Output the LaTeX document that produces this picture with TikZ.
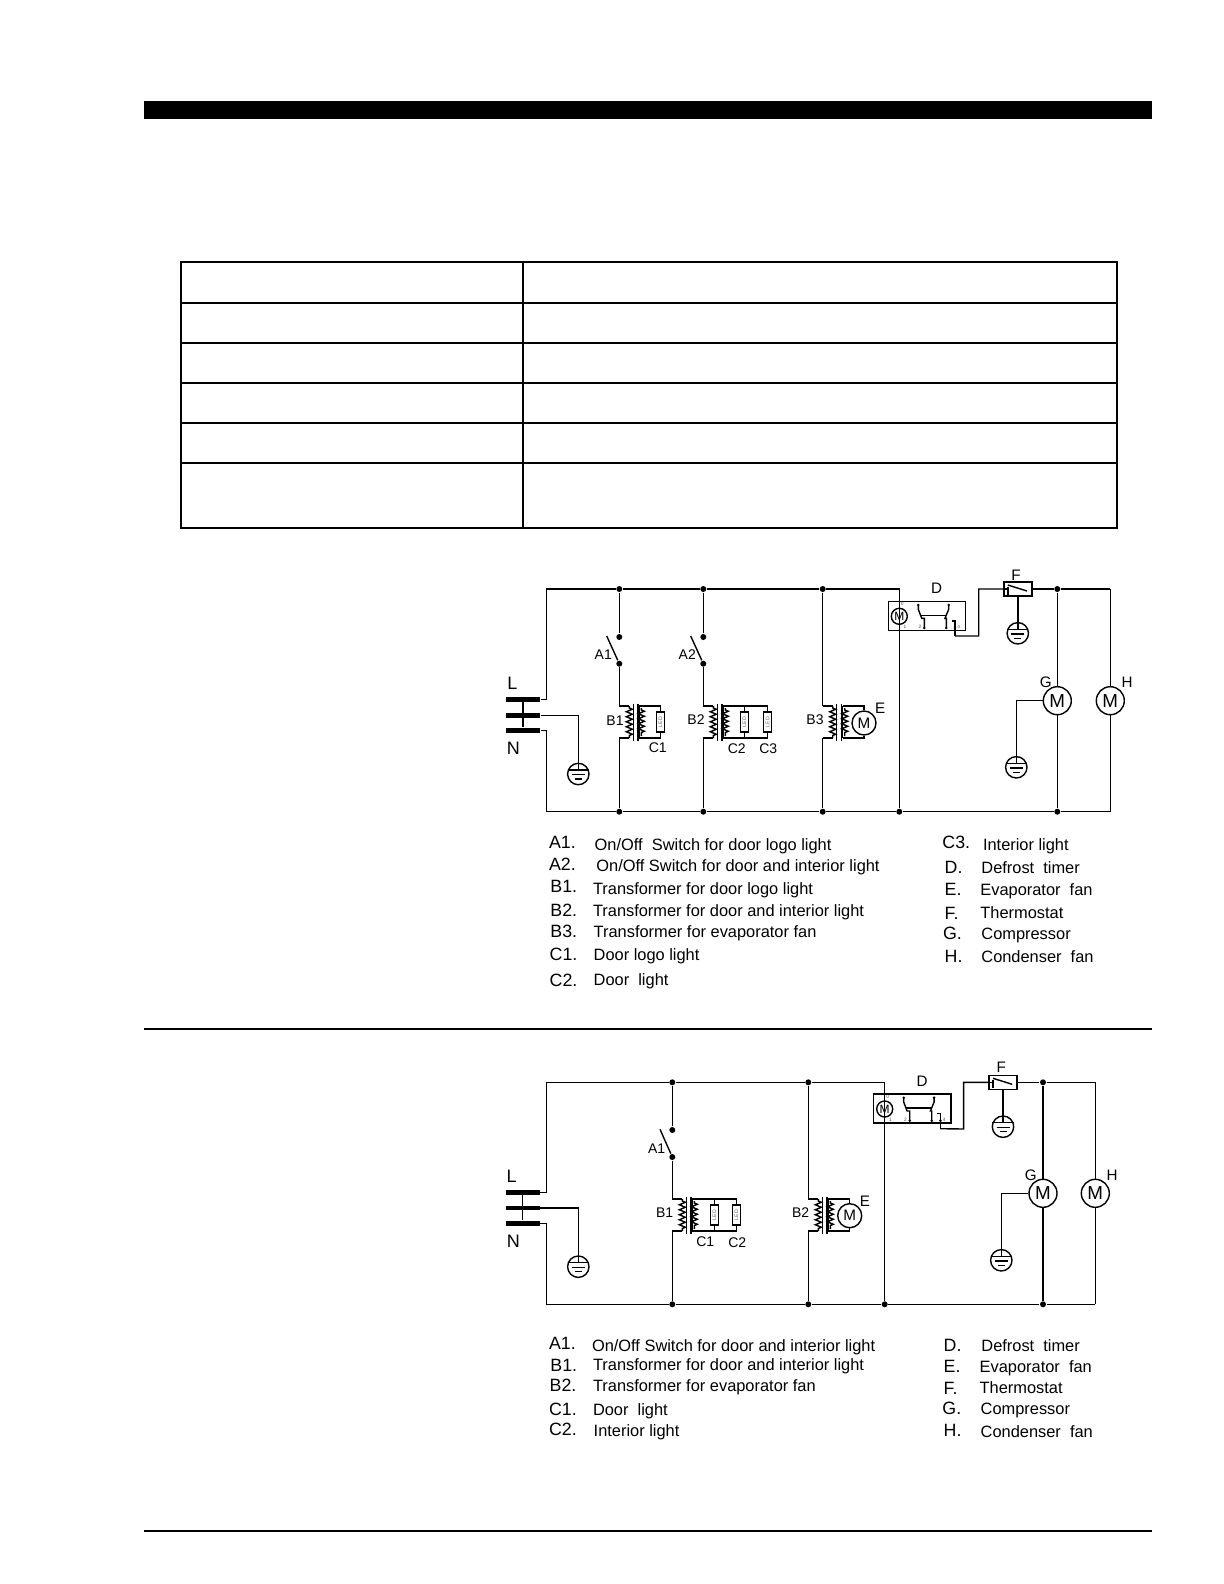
\documentclass[tikz,border=0pt]{standalone}
\usepackage{fontspec}
\setmainfont{Liberation Sans}
\usetikzlibrary{decorations.pathmorphing}
\tikzset{
	dot/.style={circle,fill=black,inner sep=0,minimum size=3pt},
	smalldot/.style={circle,fill=black,inner sep=0,minimum size=1.4pt},
	bar/.style={fill=black,inner sep=0,minimum width=17pt,minimum height=2.4pt},
	motor/.style={circle,draw,fill=white,inner sep=0,minimum size=14pt,font=\fontsize{9.4pt}{10pt}\selectfont},
	fanmotor/.style={motor,minimum size=12pt,font=\fontsize{7.6pt}{8pt}\selectfont},
	led/.style={draw,fill=white,inner sep=0,rotate=90,minimum width=10pt,minimum height=4pt,text=black!60,font=\fontsize{2.6pt}{3pt}\selectfont},
	lab/.style={inner sep=0,font=\fontsize{7pt}{8pt}\selectfont},
	letlab/.style={inner sep=0,font=\fontsize{7.6pt}{8pt}\selectfont},
	biglab/.style={inner sep=0,font=\fontsize{9pt}{10pt}\selectfont},
	pin/.style={inner sep=0,text=black!70,font=\fontsize{2.4pt}{3pt}\selectfont},
	legkey/.style={inner sep=0,anchor=base west,xshift=-.5pt,yshift=-.5pt,font=\fontsize{8.9pt}{10pt}\selectfont},
	legtext/.style={inner sep=0,anchor=base west,xshift=-.5pt,yshift=-.5pt,font=\fontsize{8.2pt}{10pt}\selectfont},
	coil/.style={decorate,decoration={zigzag,amplitude=1.5pt,segment length=2.5pt,pre length=1pt,post length=1pt}},
	trafo/.pic={
		\coordinate (-pin) at (0,-16);
		\coordinate (-pout) at (0,16);
		\coordinate (-sin) at (20,-16);
		\coordinate (-sout) at (20,16);
		\draw (0,-16) -- (10,-16);
		\draw (0,16) -- (10,16);
		\draw[coil] (10,-16) -- (10,16);
		\draw (14,-18.5) -- (14,18.5);
		\draw (18.5,-18.5) -- (18.5,18.5);
		\draw (20,-16) -- (20,16);
		\draw[coil] (22,-14) -- (22,14);
	},
	gnd/.pic={
		\node[circle,draw,inner sep=0,minimum size=10.7pt] (-c) at (0,0) {};
		\coordinate (-in) at (0,-4);
		\draw (-10.6,-4) -- (10.6,-4);
		\draw (-6.5,0.5) -- (6.5,0.5);
		\draw (-3.5,5) -- (3.5,5);
	},
	timer/.pic={
		\coordinate (-out) at (55.7,19.7);
		\draw (-11,-15) rectangle (66.4,14);
		\node[circle,draw,inner sep=0,minimum size=8pt,font=\fontsize{6pt}{7pt}\selectfont] (-m) at (0,0) {M};
		\draw (19,-11.3) -- (19,-7) -- (22.4,2) -- (25,2) -- (25,11.7);
		\draw (49.4,-11.3) -- (49.4,-7) -- (45.7,2) -- (47,2) -- (47,11.7);
		\draw (21,-1) -- (47,-1);
		\draw (52.4,4.7) -- (55.7,4.7) -- (-out);
		\node[smalldot] (-a) at (19,-11.3) {};
		\node[smalldot] (-b) at (49.4,-11.3) {};
		\node[smalldot] (-d) at (25,11.7) {};
		\node[smalldot] (-e) at (47,11.7) {};
		\node[smalldot] (-f) at (55.7,11.7) {};
		\node[pin] (-n0) at (3,-12) {0};
		\node[pin] (-n1) at (5.7,10.7) {1};
		\node[pin] (-n2) at (20.7,10.4) {2};
		\node[pin] (-n4) at (59.4,10.4) {4};
	},
	thermo/.pic={
		\node[draw,inner sep=0,minimum width=14pt,minimum height=7pt] (-box) at (0,0) {};
		\draw (-14,0) -- (-10,0);
		\draw (-10,-2.5) -- (-10,6);
		\draw (-10,-4) -- (9.2,2);
	},
}
\newcommand{\legentry}[7]{
	\node[legkey] (k#1) at (#2,#3) {#4};
	\node[legtext] (t#1) at (#5,#6) {#7};
}

\begin{document}
\begin{tikzpicture}[x=0.5pt,y=-0.5pt,line width=.7pt]
	\useasboundingbox (0,0) rectangle (1224,1584);
	% page rules
	\fill (144,101) rectangle (1152,119);
	\draw (144,1029) -- (1152,1029);
	\draw (144,1531) -- (1152,1531);
	% table
	\draw[line width=1pt] (181,262) rectangle (1117,527.7);
	\draw[line width=1pt] (523.3,262) -- (523.3,527.7);
	\foreach \r in {302.7,342.7,382.7,422.7,462.7}
		\draw[line width=1pt] (181,\r) -- (1117,\r);

	% first circuit: define coordinates
	\coordinate (tl) at (546.7,589);
	\coordinate (bl) at (546.7,811.7);
	\coordinate (tm) at (899.3,589);
	\coordinate (tr) at (1110.3,589);
	\coordinate (br) at (1110.3,811.7);
	\coordinate (d1) at (978.7,636);
	\coordinate (d2) at (978.7,589);
	\coordinate (s1) at (606.7,636);
	\coordinate (s2) at (690.7,636);
	% supply
	\node[bar] (L1) at (523,699.3) {};
	\node[bar] (L2) at (523,715.3) {};
	\node[bar] (L3) at (523,730.3) {};
	\node[biglab] (Ltxt) at (512.3,683.3) {L};
	\node[biglab] (Ntxt) at (513.3,748.3) {N};
	\draw (L1) -- (L3);
	\pic (g1) at (578.3,774) {gnd};
	\draw (L2.east) -| (g1-in);
	% junctions
	\node[dot] (a1) at (619.3,589) {};
	\node[dot] (a2) at (703.3,589) {};
	\node[dot] (a3) at (822.7,589) {};
	\node[dot] (a5) at (1057.3,589) {};
	\node[dot] (b1) at (619.3,811.7) {};
	\node[dot] (b2) at (703.3,811.7) {};
	\node[dot] (b3) at (822.7,811.7) {};
	\node[dot] (b4) at (899.3,811.7) {};
	\node[dot] (b5) at (1057.3,811.7) {};
	% rails
	\draw (L1.east) -| (tl) -- (a1) -- (a2) -- (a3) -- (tm) -- (b4);
	\draw (L3.east) -| (bl) -- (b1) -- (b2) -- (b3) -- (b4) -- (b5) -- (br);
	% switches
	\node[dot] (A1a) at (619.3,637) {};
	\node[dot] (A1b) at (619.3,663.7) {};
	\node[dot] (A2a) at (703.3,637) {};
	\node[dot] (A2b) at (703.3,663.7) {};
	\draw (A1b) -- (s1);
	\draw (A2b) -- (s2);
	\draw (a1) -- (A1a);
	\draw (a2) -- (A2a);
	\node[lab] (A1txt) at (603.3,655) {A1};
	\node[lab] (A2txt) at (687.3,655) {A2};
	% transformers
	\pic (T1) at (619.3,722) {trafo};
	\pic (T2) at (703.3,722) {trafo};
	\pic (T3) at (822.7,722) {trafo};
	\draw (A1b) -- (T1-pin);
	\draw (T1-pout) -- (b1);
	\draw (A2b) -- (T2-pin);
	\draw (T2-pout) -- (b2);
	\draw (a3) -- (T3-pin);
	\draw (T3-pout) -- (b3);
	\node[lab] (B1txt) at (615,721) {B1};
	\node[lab] (B2txt) at (696,719.3) {B2};
	\node[lab] (B3txt) at (815,719.3) {B3};
	% lights
	\node[led] (C1) at (660.3,722) {LED};
	\node[led] (C2) at (744.3,722) {LED};
	\node[led] (C3) at (767.7,722) {LED};
	\draw (T1-sin) -| (C1.east);
	\draw (T1-sout) -| (C1.west);
	\draw (T2-sin) -| (C2.east);
	\draw (T2-sout) -| (C2.west);
	\draw (T2-sin) -| (C3.east);
	\draw (T2-sout) -| (C3.west);
	\node[lab] (C1txt) at (657.7,747.7) {C1};
	\node[lab] (C2txt) at (736.7,748.3) {C2};
	\node[lab] (C3txt) at (768.3,749) {C3};
	% fan on the third transformer
	\node[fanmotor] (E) at (864,723) {M};
	\draw (T3-sin) -| (E.north);
	\draw (T3-sout) -| (E.south);
	\node[letlab] (Etxt) at (880.3,708.7) {E};
	% timer and thermostat
	\pic (D) at (899.3,616.3) {timer};
	\node[letlab] (Dtxt) at (936.7,588.3) {D};
	\pic (F) at (1017.8,589) {thermo};
	\node[letlab] (Ftxt) at (1016,575) {F};
	\draw (D-out) -- (d1) -- (d2) -- (F-box.west);
	\draw (F-box.east) -- (a5) -- (tr);
	\pic (g2) at (1017.8,633.3) {gnd};
	\draw (F-box.south) -- (g2-in);
	% compressor and condenser fan
	\node[motor] (G) at (1057.3,700.7) {M};
	\node[motor] (H) at (1110.3,700.7) {M};
	\node[letlab] (Gtxt) at (1045.7,682.3) {G};
	\node[letlab] (Htxt) at (1127,682.5) {H};
	\draw (a5) -- (G);
	\draw (G) -- (b5);
	\draw (tr) -- (H);
	\draw (H) -- (br);
	\pic (g3) at (1016.3,767.3) {gnd};
	\draw (G.west) -| (g3-in);

	% first legend
	\legentry{a}{549.3}{847}{A1.}{595}{849}{On/Off\ \ Switch for door logo light}
	\legentry{b}{549.3}{869}{A2.}{596.7}{870.7}{On/Off Switch for door and interior light}
	\legentry{c}{550.7}{891.7}{B1.}{593.3}{893.3}{Transformer for door logo light}
	\legentry{d}{550.7}{915}{B2.}{593.3}{915}{Transformer for door and interior light}
	\legentry{e}{550.7}{936.7}{B3.}{594}{936.7}{Transformer for evaporator fan}
	\legentry{f}{550}{959.3}{C1.}{594}{959.3}{Door logo light}
	\legentry{g}{550}{985}{C2.}{594}{984.3}{Door\ \ light}
	\legentry{h}{942.7}{847.7}{C3.}{983.3}{849}{Interior light}
	\legentry{i}{945}{872.7}{D.}{981.7}{872.7}{Defrost\ \ timer}
	\legentry{j}{945}{894.3}{E.}{980.7}{894}{Evaporator\ \ fan}
	\legentry{k}{945}{918.3}{F.}{980.7}{917.3}{Thermostat}
	\legentry{l}{943.3}{938.3}{G.}{981.7}{938.3}{Compressor}
	\legentry{m}{945}{961}{H.}{981.7}{961.7}{Condenser\ \ fan}

	% second circuit: define coordinates
	\coordinate (tlb) at (546.7,1082.3);
	\coordinate (blb) at (546.7,1304.3);
	\coordinate (tmb) at (884.7,1082.3);
	\coordinate (trb) at (1095.3,1082.3);
	\coordinate (brb) at (1095.3,1304.3);
	\coordinate (d1b) at (963.6,1129);
	\coordinate (d2b) at (963.6,1082.3);
	\coordinate (s1b) at (660,1129.3);
	% supply
	\node[bar] (L1b) at (522.5,1192.3) {};
	\node[bar] (L2b) at (522.5,1208) {};
	\node[bar] (L3b) at (522.5,1223.3) {};
	\node[biglab] (Ltxtb) at (511.7,1176.7) {L};
	\node[biglab] (Ntxtb) at (513.3,1241.7) {N};
	\draw (L1b) -- (L3b);
	\pic (g4) at (578.3,1266.7) {gnd};
	\draw (L2b.east) -| (g4-in);
	% junctions
	\node[dot] (a1b) at (672.3,1082.3) {};
	\node[dot] (a2b) at (808.3,1082.3) {};
	\node[dot] (a5b) at (1043,1082.3) {};
	\node[dot] (b1b) at (672.3,1304.3) {};
	\node[dot] (b2b) at (808.3,1304.3) {};
	\node[dot] (b4b) at (884.7,1304.3) {};
	\node[dot] (b5b) at (1043,1304.3) {};
	% rails
	\draw (L1b.east) -| (tlb) -- (a1b) -- (a2b) -- (tmb) -- (b4b);
	\draw (L3b.east) -| (blb) -- (b1b) -- (b2b) -- (b4b) -- (b5b) -- (brb);
	% switch
	\node[dot] (A1c) at (672.3,1130) {};
	\node[dot] (A1d) at (672.3,1157) {};
	\draw (A1d) -- (s1b);
	\draw (a1b) -- (A1c);
	\node[lab] (A1txtb) at (656.7,1148.3) {A1};
	% transformers
	\pic (T4) at (672.3,1215) {trafo};
	\pic (T5) at (808.3,1215) {trafo};
	\draw (A1d) -- (T4-pin);
	\draw (T4-pout) -- (b1b);
	\draw (a2b) -- (T5-pin);
	\draw (T5-pout) -- (b2b);
	\node[lab] (B1txtb) at (664.7,1212.3) {B1};
	\node[lab] (B2txtb) at (800.7,1212.3) {B2};
	% lights
	\node[led] (C4) at (714.3,1215) {LED};
	\node[led] (C5) at (736.3,1215) {LED};
	\draw (T4-sin) -| (C4.east);
	\draw (T4-sout) -| (C4.west);
	\draw (T4-sin) -| (C5.east);
	\draw (T4-sout) -| (C5.west);
	\node[lab] (C1txtb) at (705.3,1241.7) {C1};
	\node[lab] (C2txtb) at (737.3,1242.7) {C2};
	% fan on the second transformer
	\node[fanmotor] (Eb) at (849.7,1215.7) {M};
	\draw (T5-sin) -| (Eb.north);
	\draw (T5-sout) -| (Eb.south);
	\node[letlab] (Etxtb) at (865,1201.7) {E};
	% timer and thermostat
	\pic (Db) at (884.7,1109) {timer};
	\node[letlab] (Dtxtb) at (922,1081) {D};
	\pic (Fb) at (1003,1082.3) {thermo};
	\node[letlab] (Ftxtb) at (1001.3,1067.3) {F};
	\draw (Db-out) -- (d1b) -- (d2b) -- (Fb-box.west);
	\draw (Fb-box.east) -- (a5b) -- (trb);
	\pic (g5) at (1003,1126.7) {gnd};
	\draw (Fb-box.south) -- (g5-in);
	% compressor and condenser fan
	\node[motor] (Gb) at (1043,1193.3) {M};
	\node[motor] (Hb) at (1095.3,1193.3) {M};
	\node[letlab] (Gtxtb) at (1030.7,1175) {G};
	\node[letlab] (Htxtb) at (1112,1175) {H};
	\draw (a5b) -- (Gb);
	\draw (Gb) -- (b5b);
	\draw (trb) -- (Hb);
	\draw (Hb) -- (brb);
	\pic (g6) at (1001.3,1260.3) {gnd};
	\draw (Gb.west) -| (g6-in);

	% second legend
	\legentry{n}{549.3}{1348.3}{A1.}{592.3}{1350}{On/Off Switch for door and interior light}
	\legentry{o}{550.7}{1370}{B1.}{593.3}{1369}{Transformer for door and interior light}
	\legentry{p}{550}{1390.7}{B2.}{593.3}{1390.7}{Transformer for evaporator fan}
	\legentry{q}{549.3}{1414.3}{C1.}{593.3}{1414.3}{Door\ \ light}
	\legentry{r}{549.3}{1434}{C2.}{594}{1435.7}{Interior light}
	\legentry{s}{944}{1350}{D.}{981.7}{1350}{Defrost\ \ timer}
	\legentry{t}{944}{1371.7}{E.}{980}{1371}{Evaporator\ \ fan}
	\legentry{u}{944}{1393.3}{F.}{980}{1392.3}{Thermostat}
	\legentry{v}{942.7}{1413.3}{G.}{981}{1413.3}{Compressor}
	\legentry{w}{944}{1435.7}{H.}{981}{1436.7}{Condenser\ \ fan}
\end{tikzpicture}
\end{document}
